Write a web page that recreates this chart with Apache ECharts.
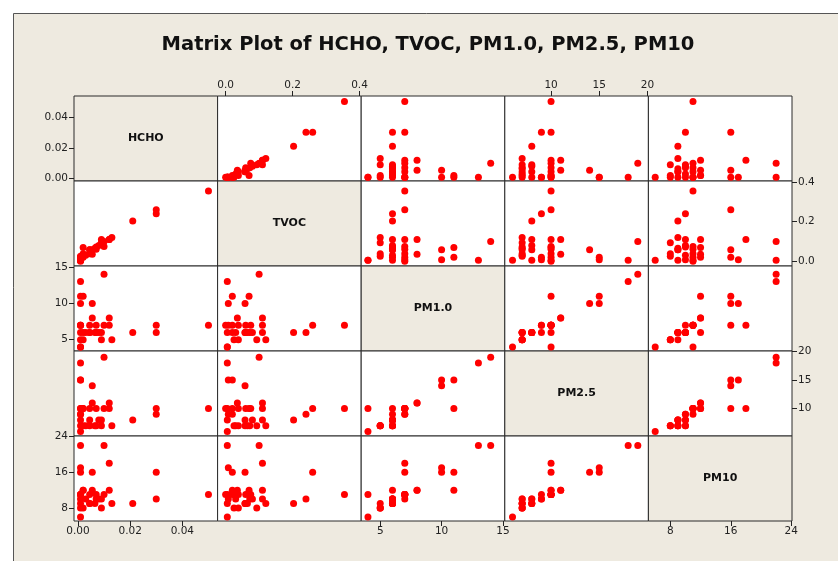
<!DOCTYPE html>
<html>
<head>
<meta charset="utf-8">
<script src="https://cdn.jsdelivr.net/npm/echarts@6/dist/echarts.min.js"></script>
<style>
  html, body { margin: 0; padding: 0; background: #fff; }
  #chart { width: 838px; height: 561px; }
</style>
</head>
<body>
<div id="chart"></div>
<script>
// variable names, in matrix order
const varNames = ['HCHO', 'TVOC', 'PM1.0', 'PM2.5', 'PM10'];

// one entry per observation
const hcho = [0.050, 0.030, 0.030, 0.021, 0.010, 0.001, 0.001, 0.001, 0.012, 0.0055,
              0.001, 0.001, 0.002, 0.012, 0.0055, 0.002, 0.013, 0.009, 0.002, 0.001,
              0.007, 0.0045, 0.009, 0.0045, 0.001, 0.001, 0.010, 0.007, 0.0045, 0.001,
              0.001, 0.003, 0.008, 0.0065];
const tvoc = [0.355, 0.260, 0.240, 0.203, 0.100, 0.005, 0.005, 0.005, 0.110, 0.058,
              0.008, 0.020, 0.070, 0.110, 0.035, 0.020, 0.120, 0.093, 0.038, 0.025,
              0.072, 0.058, 0.110, 0.058, 0.005, 0.020, 0.075, 0.060, 0.038, 0.000,
              0.008, 0.030, 0.080, 0.065];
const pm1 = [7, 7, 6, 6, 14, 13, 4, 4, 7, 10,
             10, 11, 11, 8, 8, 6, 5, 5, 5, 5,
             6, 6, 6, 6, 6, 7, 7, 7, 7, 7,
             7, 6, 6, 6];
const pm25 = [10, 10, 9, 8, 19, 18, 6, 10, 10, 14,
              15, 15, 10, 11, 11, 10, 7, 7, 7, 7,
              7, 7, 8, 8, 8, 9, 10, 10, 10, 10,
              9, 7, 8, 7];
const pm10 = [11, 16, 10, 9, 22, 22, 6, 11, 18, 16,
              17, 16, 12, 12, 12, 12, 9, 8, 8, 8,
              10, 9, 10, 9, 9, 11, 11, 11, 11, 11,
              10, 10, 10, 9];

// axis scale ranges and tick labels per variable
const axisMin = [-0.0015, -0.024, 3.45, 5.2, 5.1];
const axisMax = [0.0535, 0.405, 15.15, 20.1, 24.1];
const tickValues = [[0, 0.02, 0.04], [0, 0.2, 0.4], [5, 10, 15], [10, 15, 20], [8, 16, 24]];
const tickDigits = [2, 1, 0, 0, 0];

const cols = [hcho, tvoc, pm1, pm25, pm10];
const n = varNames.length;

const beige = '#EEEAE0';
const left0 = 74, top0 = 96, cellW = 143.6, cellH = 85;
const font = 'DejaVu Sans';

const grids = [], xAxes = [], yAxes = [], series = [];
const graphics = [];

function axisCfg(v, showIt, pos, gi, isX) {
  const cfg = {
    type: 'value',
    gridIndex: gi,
    min: axisMin[v],
    max: axisMax[v],
    position: pos,
    splitLine: { show: false },
    axisLine: { show: false, onZero: false },
    axisTick: { show: false },
    axisLabel: { show: false }
  };
  if (showIt) {
    cfg.axisTick = {
      show: true, length: 5, inside: false,
      customValues: tickValues[v],
      lineStyle: { color: '#222', width: 1 }
    };
    cfg.axisLabel = {
      show: true,
      customValues: tickValues[v],
      formatter: val => val.toFixed(tickDigits[v]),
      fontFamily: font, fontSize: 10.5, color: '#222',
      margin: isX ? 5 : 6
    };
  }
  return cfg;
}

let g = 0;
for (let i = 0; i < n; i++) {
  for (let j = 0; j < n; j++) {
    grids.push({
      left: left0 + j * cellW, top: top0 + i * cellH,
      width: cellW, height: cellH,
      show: true,
      backgroundColor: i === j ? beige : '#ffffff',
      borderColor: '#2a2a2a', borderWidth: 1
    });
    const showX = (i === 0 && (j === 1 || j === 3)) || (i === n - 1 && j % 2 === 0);
    const showY = (j === 0 && i % 2 === 0) || (j === n - 1 && i % 2 === 1);
    xAxes.push(axisCfg(j, showX, i === 0 ? 'top' : 'bottom', g, true));
    yAxes.push(axisCfg(i, showY, j === 0 ? 'left' : 'right', g, false));
    if (i !== j) {
      series.push({
        type: 'scatter',
        xAxisIndex: g, yAxisIndex: g,
        symbol: 'circle', symbolSize: 7,
        itemStyle: { color: '#ff0000', opacity: 1 },
        silent: true,
        data: cols[j].map((x, k) => [x, cols[i][k]])
      });
    } else {
      graphics.push({
        type: 'text',
        x: left0 + j * cellW + cellW / 2,
        y: top0 + i * cellH + cellH / 2,
        style: {
          text: varNames[i], fontFamily: font, fontWeight: 'bold', fontSize: 11,
          fill: '#111', textAlign: 'center', textVerticalAlign: 'middle'
        }
      });
    }
    g++;
  }
}

// page frame and title
graphics.unshift({
  type: 'rect', z: -10,
  shape: { x: 13.5, y: 13.5, width: 840, height: 560 },
  style: { fill: beige, stroke: '#555', lineWidth: 1 }
});
graphics.push({
  type: 'text',
  x: 428, y: 45,
  style: {
    text: 'Matrix Plot of HCHO, TVOC, PM1.0, PM2.5, PM10',
    fontFamily: font, fontWeight: 'bold', fontSize: 19.5,
    fill: '#111', textAlign: 'center', textVerticalAlign: 'middle'
  }
});

const chart = echarts.init(document.getElementById('chart'));
chart.setOption({
  animation: false,
  backgroundColor: '#ffffff',
  graphic: { elements: graphics },
  grid: grids,
  xAxis: xAxes,
  yAxis: yAxes,
  series: series
});
</script>
</body>
</html>
